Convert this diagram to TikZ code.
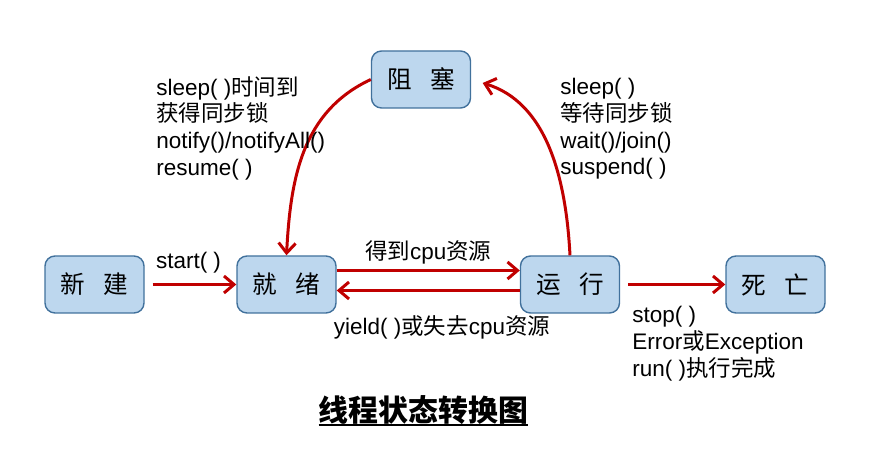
\documentclass[tikz,border=0pt]{standalone}
\usepackage{fontspec}
\setmainfont{Liberation Sans}
\newfontfamily\cjk{Noto Sans CJK SC}
\usetikzlibrary{arrows.meta,positioning}
\definecolor{StateLine}{HTML}{41719C}
\definecolor{StateFill}{HTML}{BDD7EE}
\definecolor{FlowRed}{HTML}{C00000}
\tikzset{>={Straight Barb[length=2mm,width=3.4mm]},state/.style={rounded corners=2mm,
 draw=StateLine,fill=StateFill,line width=0.8pt,minimum width=1.98cm,minimum height=1.14cm,
 inner sep=0pt,font=\cjk\fontsize{14}{16}\selectfont},flow/.style={draw=FlowRed,line width=1.7pt,->},
 note/.style={align=left,inner sep=0pt,anchor=north west,font=\fontsize{12.8}{15.2}\selectfont}}

\begin{document}
\begin{tikzpicture}
\useasboundingbox (0,0) rectangle (17.54,9.22);
\node[state] (new) at (1.89,3.53){新\hspace{0.75em}建};\node[state] (ready) at (5.73,3.53){就\hspace{0.75em}绪};
\node[state] (blocked) at (8.42,7.63){阻\hspace{0.75em}塞};\node[state] (running) at (11.40,3.53){运\hspace{0.75em}行};
\node[state] (dead) at (15.51,3.53){死\hspace{0.75em}亡};
\draw[flow,shorten <=1.6mm] (new) -- node[above=2.5pt,xshift=-0.4mm,font=\fontsize{12.8}{15.2}\selectfont] {start( )} (ready);
\draw[flow] ([yshift=2.8mm]ready.east) -- node[above,inner sep=3pt,font=\fontsize{12.8}{15.2}\selectfont]
 {{\cjk 得到}cpu{\cjk 资源}} ([yshift=2.8mm]running.west);
\draw[flow] ([yshift=-1.2mm]running.west) -- ([yshift=-1.2mm]ready.east);
\draw[flow,shorten <=1.6mm] (running) -- (dead);
\draw[flow,shorten >=2.4mm] (running.north) to[out=93,in=-17] (blocked.east);
\draw[flow] (blocked.west) to[out=205,in=87] (ready.north);
% transition conditions
\node[note] (wakeup) at (3.12,7.70) {sleep( ){\cjk 时间到}\\{\cjk 获得同步锁}\\notify()/notifyAll()\\resume( )};
\node[note] (waiting) at (11.20,7.66) {sleep( )\\{\cjk 等待同步锁}\\wait()/join()\\suspend( )};
\node[note] (finish) at (12.64,3.10) {stop( )\\Error{\cjk 或}Exception\\run( ){\cjk 执行完成}};
\node[font=\fontsize{12.8}{15.2}\selectfont,inner sep=0pt] (yield) at (8.84,2.68) {yield( ){\cjk 或失去}cpu{\cjk 资源}};
% title
\node[inner sep=0pt,font=\cjk\bfseries\fontsize{17}{20}\selectfont] (title) at (8.47,1.02) {线程状态转换图};
\draw[line width=1.1pt] (title.south west) -- (title.south east);
\end{tikzpicture}
\end{document}
